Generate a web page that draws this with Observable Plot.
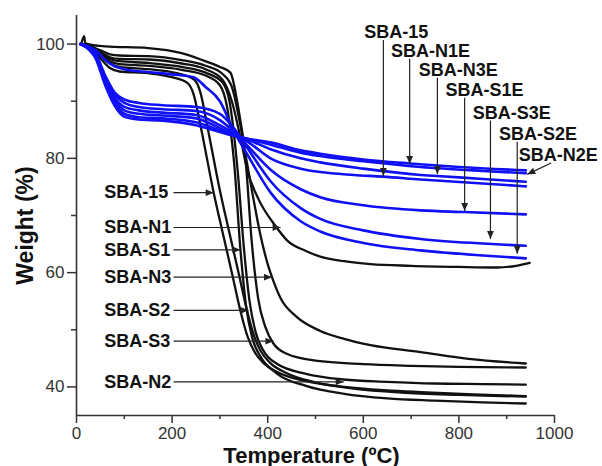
<!DOCTYPE html>
<html><head><meta charset="utf-8">
<script src="https://cdn.jsdelivr.net/npm/d3@7"></script>
<script src="https://cdn.jsdelivr.net/npm/@observablehq/plot@0.6"></script>
<style>body{margin:0;background:#fff}#chart svg{display:block}</style>
</head><body><div id="chart"></div>
<script>
// ---- Black curves (T °C, weight %) ----
const k_SBA15 = [[10,100],[30,99.3],[50,97.5],[70,95.8],[90,95.2],[150,94.9],[200,94.2],[232,93.2],[245,91.2],[260,85.5],[287,74],[305,67.3],[325,60],[343,53.3],[358,48.8],[372,46.2],[390,44.3],[420,42.6],[480,41],[560,40],[650,39.4],[720,39.1],[830,38.7],[940,38.4]];
const k_SBAN1 = [[10,100],[30,99.5],[50,98.6],[70,97.7],[90,97.4],[150,97.3],[220,96.6],[270,95.6],[305,93.8],[325,90],[343,83.6],[357,78],[380,73],[416,68.2],[441,65.6],[480,63.8],[510,62.8],[560,62],[615,61.5],[700,61.2],[800,61],[880,60.9],[920,61.2],[948,61.7]];
const k_SBAS1 = [[10,100],[30,99.5],[50,98.3],[70,97],[90,96.5],[150,96.2],[220,95.5],[270,94.5],[300,92.8],[315,89],[330,79],[343,64],[355,54],[368,48.5],[385,45.3],[420,42.3],[480,40.2],[560,38.8],[650,38],[750,37.6],[850,37.3],[940,37.1]];
const k_SBAN3 = [[10,100],[30,99.6],[50,98.9],[70,98.2],[90,98],[150,97.9],[220,97.2],[270,96.2],[305,94.8],[325,92.5],[340,87],[355,80],[370,73],[385,66.5],[400,61.5],[409,59.2],[427,55.5],[460,52.3],[510,49.8],[560,48.4],[615,47.3],[720,46.1],[820,44.9],[940,44.1]];
const k_SBAS2 = [[10,100],[30,99.4],[50,98],[70,96.6],[90,96],[150,95.6],[210,94.9],[246,93.8],[259,91.6],[274,85.5],[301,74],[319,67.3],[339,60],[357,53.3],[372,48.8],[386,46.2],[404,44.3],[440,42.4],[500,40.8],[580,39.7],[680,39],[800,38.6],[940,38.3]];
const k_SBAS3 = [[10,100],[16,101.4],[18,100.2],[30,99.9],[60,99.6],[150,99.3],[220,98.4],[260,97.3],[300,96],[322,95],[336,90],[354,79.5],[366,66],[380,55.5],[395,50.5],[412,47.6],[440,45.8],[500,44.6],[600,44],[700,43.7],[800,43.5],[940,43.4]];
const k_SBAN2 = [[10,100],[30,99.5],[50,98.5],[70,97.4],[90,97],[150,96.7],[220,96],[270,95],[305,93.3],[320,90],[337,78],[350,64.5],[362,55],[375,49.5],[390,46.5],[420,44],[480,42.3],[559,41.3],[650,40.9],[750,40.6],[850,40.5],[940,40.4]];
// ---- Blue curves ----
const b_SBA15 = [[8,100],[25,99.3],[40,98],[60,93.8],[80,90.6],[100,89],[130,88.4],[180,88],[250,87.6],[300,85.8],[330,84.3],[360,82.8],[406,80],[469,78.2],[510,77.6],[580,77.1],[641,76.8],[720,76.3],[850,75.6],[940,75.1]];
const b_SBAN1E = [[8,100],[25,99.1],[40,97.5],[60,92.8],[80,89.2],[100,87.3],[130,86.8],[180,86.6],[250,85.8],[300,84.6],[330,83.9],[360,83.4],[406,82.8],[469,81.4],[510,80.8],[600,79.8],[697,79.1],[800,78.5],[940,77.9]];
const b_SBAN3E = [[8,100],[25,99.3],[40,97.9],[60,93.5],[80,90.2],[100,88.4],[130,87.8],[180,87.5],[250,87],[300,85.3],[330,84.1],[360,83.2],[406,81.6],[469,80],[510,79.3],[600,78.2],[720,77.1],[755,76.9],[850,76.4],[940,75.9]];
const b_SBAS1E = [[8,100],[25,99.4],[40,98.2],[60,94.2],[80,91.2],[100,89.7],[130,89],[180,88.6],[250,88.3],[300,86.7],[330,84.6],[360,82],[406,78],[469,74.6],[510,73.2],[600,71.8],[720,70.9],[812,70.6],[940,70.2]];
const b_SBAS3E = [[8,100],[25,99.4],[40,98.3],[60,94.5],[80,91.5],[100,90.3],[130,89.7],[180,89.3],[250,89],[300,87.8],[330,85.2],[360,81.5],[406,76],[469,71.3],[510,69.4],[600,67.4],[720,65.9],[850,65.1],[940,64.7]];
const b_SBAS2E = [[8,100],[25,99.6],[40,98.9],[60,97.2],[80,96.1],[100,95.6],[150,95.1],[200,94.7],[245,94.2],[270,92.5],[300,90],[329,84.8],[360,80.3],[406,74],[469,69],[510,67.2],[600,65.2],[720,63.9],[850,63],[940,62.5]];
const b_SBAN2E = [[8,100],[25,99.2],[40,97.7],[60,93.2],[80,89.7],[100,87.8],[130,87.2],[180,87],[250,86.3],[300,84.9],[330,84],[360,83.4],[406,82.4],[469,81],[510,80.4],[600,79.5],[720,78.5],[850,77.8],[940,77.4]];

// ---- Annotation labels ----
const blackLabels = ["SBA-15","SBA-N1","SBA-S1","SBA-N3","SBA-S2","SBA-S3","SBA-N2"];
const blackLabelT = [58,58,58,58,58,58,58];
const blackLabelW = [74.0,67.9,64.0,59.2,53.4,48.0,40.9];
const blackArrowFromT = [203,203,203,203,203,203,203];
const blackArrowTipT = [287,427,343,409,360,412,559];

const blueLabels = ["SBA-15","SBA-N1E","SBA-N3E","SBA-S1E","SBA-S3E","SBA-S2E","SBA-N2E"];
const blueLabelT = [602,658,716,772,829,884,925];
const blueLabelW = [102.0,98.7,95.4,91.9,87.9,84.2,80.6];
const blueArrowFromT = [642,697,755,812,866,922,993];
const blueArrowFromW = [100.7,97.4,94.1,90.6,86.6,82.9,79.2];
const blueArrowTipT = [642,697,755,812,866,922,943];
const blueArrowTipW = [76.9,79.0,77.2,70.8,65.9,63.3,77.2];

const xMajor = [0,200,400,600,800,1000];
const xMinor = [100,300,500,700,900];
const yMajor = [40,60,80,100];
const yMinor = [50,70,90];

const blackSets = [k_SBA15,k_SBAN1,k_SBAS1,k_SBAN3,k_SBAS2,k_SBAS3,k_SBAN2];
const blueSets = [b_SBA15,b_SBAN1E,b_SBAN3E,b_SBAS1E,b_SBAS3E,b_SBAS2E,b_SBAN2E];
const toRows = (sets, names) => sets.flatMap((s,i) => s.map(([T,W]) => ({name: names[i], T, W})));
const blackRows = toRows(blackSets, blackLabels);
const blueRows = toRows(blueSets, blueLabels);

const AX = "#333";
const chart = Plot.plot({
  width: 602, height: 466,
  marginLeft: 76, marginRight: 48, marginTop: 15, marginBottom: 51,
  style: {fontFamily: "'Liberation Sans', Arial, sans-serif", background: "#fff", overflow: "visible"},
  x: {domain: [0, 1000]},
  y: {domain: [35, 105]},
  marks: [
    Plot.axisX({ticks: xMajor, tickSize: 8, tickPadding: 3, fontSize: 17, tickFormat: d => String(d), label: null, color: AX, strokeWidth: 1.5}),
    Plot.axisX({ticks: xMinor, tickSize: 4, tickFormat: () => "", label: null, color: AX, strokeWidth: 1.5}),
    Plot.axisY({ticks: yMajor, tickSize: 9, tickPadding: 3, fontSize: 17, tickFormat: d => String(d), label: null, color: AX, strokeWidth: 1.5}),
    Plot.axisY({ticks: yMinor, tickSize: 5, tickFormat: () => "", label: null, color: AX, strokeWidth: 1.5}),
    Plot.ruleY([35], {stroke: AX, strokeWidth: 1.6}),
    Plot.ruleX([0], {stroke: AX, strokeWidth: 1.6}),
    Plot.line(blackRows, {x: "T", y: "W", z: "name", stroke: "#111", strokeWidth: 2.3, curve: "monotone-x"}),
    Plot.line(blueRows, {x: "T", y: "W", z: "name", stroke: "#1010f5", strokeWidth: 2.6, curve: "monotone-x"}),
    Plot.link(blackLabels, {x1: blackArrowFromT, y1: blackLabelW, x2: blackArrowTipT, y2: blackLabelW, stroke: "#222", strokeWidth: 1.2, markerEnd: "arrow"}),
    Plot.link(blueLabels, {x1: blueArrowFromT, y1: blueArrowFromW, x2: blueArrowTipT, y2: blueArrowTipW, stroke: "#222", strokeWidth: 1.2, markerEnd: "arrow"}),
    Plot.text(blackLabels, {x: blackLabelT, y: blackLabelW, text: d => d, textAnchor: "start", fontSize: 18, fontWeight: "bold", fill: "#111"}),
    Plot.text(blueLabels, {x: blueLabelT, y: blueLabelW, text: d => d, textAnchor: "start", fontSize: 18, fontWeight: "bold", fill: "#111"}),
    Plot.text(["Temperature (ºC)"], {frameAnchor: "bottom", textAnchor: "middle", lineAnchor: "middle", dx: -4, dy: 40, fontSize: 22, fontWeight: "bold", fill: "#111"}),
    Plot.text(["Weight (%)"], {frameAnchor: "left", textAnchor: "middle", lineAnchor: "middle", dx: -51, dy: 10, rotate: -90, fontSize: 23, fontWeight: "bold", fill: "#111"})
  ]
});
// filled triangular arrowheads
chart.querySelectorAll("marker").forEach(m => {
  m.setAttribute("markerUnits", "userSpaceOnUse");
  m.setAttribute("viewBox", "-10 -5 12 10");
  m.setAttribute("markerWidth", "12");
  m.setAttribute("markerHeight", "10");
  m.setAttribute("overflow", "visible");
  const c = m.getAttribute("stroke") || "#222";
  m.setAttribute("fill", c);
  m.setAttribute("stroke", "none");
  m.querySelectorAll("path").forEach(p => p.setAttribute("d", "M-8,-3.4L0,0L-8,3.4Z"));
});
document.getElementById("chart").appendChild(chart);
</script>
</body></html>
